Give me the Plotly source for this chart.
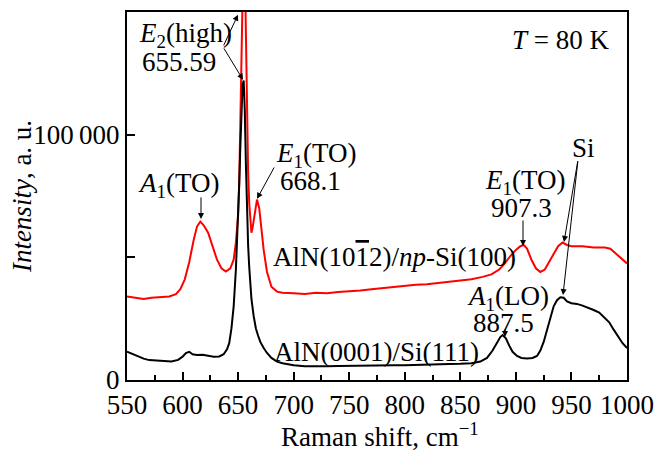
import plotly.graph_objects as go

# Raman spectra at T = 80 K
shift_np = [550, 558, 565, 572, 580, 588, 594, 598, 602, 606, 610, 613, 616, 619, 623,
            627, 631, 635, 639, 643, 646, 648, 650, 651, 652, 653, 654, 655, 656, 657,
            658, 659, 660, 661, 662, 663, 665, 667, 669, 671, 673, 676, 680, 685, 690,
            700, 710, 720, 730, 740, 750, 760, 770, 780, 790, 800, 810, 820, 830, 840,
            850, 860, 870, 878, 885, 890, 895, 900, 904, 907, 910, 914, 918, 922, 926,
            930, 934, 938, 942, 946, 950, 960, 970, 980, 985, 990, 995, 1000]
intensity_np = [34000, 33500, 33000, 33500, 33800, 34000, 35000, 37000, 41000, 48000,
                57000, 62500, 64500, 63000, 60000, 54000, 49000, 45500, 44200, 45500,
                49000, 56000, 67000, 80000, 100000, 130000, 165000, 180000, 170000, 135000,
                105000, 85000, 72000, 64000, 60000, 62000, 68000, 73500, 70000, 62000,
                53000, 44000, 38000, 36000, 35500, 35300, 35000, 35500, 35300, 35800,
                36000, 36500, 37000, 37500, 38000, 38500, 38800, 39000, 39500, 40000,
                40500, 41000, 42000, 43000, 45000, 47500, 50500, 53000, 54500, 55000,
                53500, 49000, 45500, 44000, 45000, 48000, 51500, 54500, 56000, 55000,
                54500, 54500, 54000, 54000, 53500, 51500, 49500, 47500]

shift_c = [550, 555, 560, 565, 570, 580, 590, 596, 600, 603, 606, 609, 613, 618, 623,
           628, 633, 637, 640, 642, 644, 646, 648, 650, 651, 652, 653, 654, 655, 656,
           657, 658, 659, 660, 661, 662, 664, 666, 668, 670, 673, 676, 680, 685, 690,
           700, 710, 720, 730, 740, 750, 760, 770, 780, 790, 800, 810, 820, 830, 840,
           850, 860, 868, 874, 879, 883, 886, 888, 891, 894, 897, 901, 905, 910, 915,
           919, 922, 925, 928, 931, 934, 937, 940, 943, 946, 950, 955, 960, 965, 970,
           975, 980, 984, 988, 992, 996, 1000]
intensity_c = [11500, 10500, 9500, 8700, 8100, 7700, 7500, 8200, 9500, 11000, 11500,
               10500, 10200, 10300, 9800, 9500, 9600, 10500, 12500, 15000, 21000, 30000,
               45000, 66000, 80000, 95000, 110000, 120000, 122000, 110000, 88000, 68000,
               55000, 46000, 38000, 33000, 26000, 21000, 18000, 15500, 13000, 11000, 9000,
               7500, 6800, 6000, 5600, 5500, 5600, 5700, 5800, 5700, 5800, 5900, 6000,
               6000, 6200, 6200, 6300, 6500, 6600, 6800, 7500, 9000, 12000, 15500, 17500,
               18300, 17000, 14000, 11500, 9800, 9000, 8800, 9000, 9800, 12000, 15500,
               20000, 25500, 30000, 32500, 33700, 33500, 32000, 31300, 31000, 30300,
               29500, 28500, 27500, 25500, 23500, 20500, 17500, 15000, 13000]

x_ticks = [550, 600, 650, 700, 750, 800, 850, 900, 950, 1000]
y_ticks = [0, 100000]
y_ticktext = ["0", "100\u2009000"]

FONT = "Liberation Serif, Times New Roman, serif"
FS = 27

fig = go.Figure()
fig.add_trace(go.Scatter(x=shift_np, y=intensity_np, mode="lines",
                         line=dict(color="#ff0000", width=2), cliponaxis=True))
fig.add_trace(go.Scatter(x=shift_c, y=intensity_c, mode="lines",
                         line=dict(color="#000000", width=2), cliponaxis=True))

# text labels: (text, x, y, xanchor)
labels = [
    ("<i>T</i> = 80 K", 986.5, 138600, "right"),
    ("<i>E</i><sub>2</sub>(high)", 602.2, 140600, "center"),
    ("655.59", 596.8, 129600, "center"),
    ("<i>E</i><sub>1</sub>(TO)", 720.1, 91700, "center"),
    ("668.1", 714.7, 81100, "center"),
    ("<i>A</i><sub>1</sub>(TO)", 595.9, 79500, "center"),
    ("AlN(10<span style=\"text-decoration:overline\">1</span>2)/<i>np</i>-Si(100)",
     790.3, 50100, "center"),
    ("AlN(0001)/Si(111)", 774.1, 11400, "center"),
    ("<i>E</i><sub>1</sub>(TO)", 908.2, 80700, "center"),
    ("907.3", 904.6, 70100, "center"),
    ("<i>A</i><sub>1</sub>(LO)", 892.9, 33400, "center"),
    ("887.5", 888.4, 23200, "center"),
    ("Si", 960.4, 94600, "center"),
]
annotations = []
for txt, x, y, xa in labels:
    annotations.append(dict(text=txt, x=x, y=y, xref="x", yref="y", showarrow=False,
                            xanchor=xa, yanchor="middle",
                            font=dict(family=FONT, size=FS, color="black")))

# arrows: (tail x, tail y, head x, head y)
arrows = [
    (636.4, 135700, 649.9, 148800),
    (636.4, 135700, 654.4, 122300),
    (683.2, 87200, 667.0, 73800),
    (616.6, 75000, 616.6, 65600),
    (906.4, 65600, 906.4, 54600),
    (890.2, 21200, 890.2, 17500),
    (955.9, 89700, 943.3, 56200),
    (955.9, 89700, 942.4, 34600),
]
for tx, ty, hx, hy in arrows:
    annotations.append(dict(text="", x=hx, y=hy, ax=tx, ay=ty, xref="x", yref="y",
                            axref="x", ayref="y", showarrow=True, arrowhead=2,
                            arrowsize=1.2, arrowwidth=1, arrowcolor="black",
                            standoff=0, startstandoff=0))

# axis titles
annotations.append(dict(text="Raman shift, cm<sup>\u22121</sup>", x=0.506, y=-0.15,
                        xref="paper", yref="paper", showarrow=False,
                        xanchor="center", yanchor="middle",
                        font=dict(family=FONT, size=FS, color="black")))
annotations.append(dict(text="<i>Intensity</i>, a. u.", x=-0.21, y=0.497,
                        xref="paper", yref="paper", showarrow=False, textangle=-90,
                        xanchor="center", yanchor="middle",
                        font=dict(family=FONT, size=FS, color="black")))

fig.update_layout(
    width=655, height=450,
    margin=dict(l=127, r=28, t=12, b=70, autoexpand=False),
    paper_bgcolor="white", plot_bgcolor="white",
    showlegend=False,
    font=dict(family=FONT, size=FS, color="black"),
    annotations=annotations,
)
fig.update_xaxes(range=[550, 1000], tickvals=x_ticks, ticks="inside", ticklen=8,
                 tickwidth=1.5, tickcolor="black", automargin=False,
                 minor=dict(tickvals=[575 + 50 * i for i in range(9)], ticks="inside",
                            ticklen=5, tickwidth=1.5, tickcolor="black"),
                 showline=True, linewidth=2, linecolor="black", mirror=True,
                 showgrid=False, zeroline=False,
                 tickfont=dict(family=FONT, size=FS, color="black"))
fig.update_yaxes(range=[0, 149900], tickvals=y_ticks, ticktext=y_ticktext,
                 ticks="inside", ticklen=8, tickwidth=1.5, tickcolor="black",
                 automargin=False,
                 minor=dict(tickvals=[50000], ticks="inside", ticklen=8,
                            tickwidth=1.5, tickcolor="black"),
                 showline=True, linewidth=2, linecolor="black", mirror=True,
                 showgrid=False, zeroline=False,
                 tickfont=dict(family=FONT, size=FS, color="black"))

fig.write_html("out.html")
